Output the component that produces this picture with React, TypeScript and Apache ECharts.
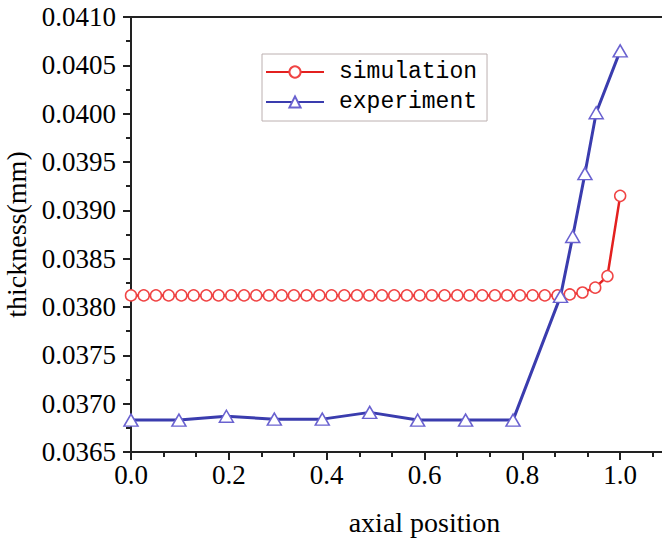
import React, { useEffect, useRef } from "react";
import * as echarts from "echarts";

const simX = [0, 0.026, 0.051, 0.077, 0.103, 0.128, 0.154, 0.179, 0.205, 0.231, 0.256, 0.282, 0.308, 0.333, 0.359, 0.385, 0.41, 0.436, 0.462, 0.487, 0.513, 0.538, 0.564, 0.59, 0.615, 0.641, 0.667, 0.692, 0.718, 0.744, 0.769, 0.795, 0.821, 0.846, 0.872, 0.897, 0.923, 0.949, 0.974, 1.0];
const simY = [0.03812, 0.03812, 0.03812, 0.03812, 0.03812, 0.03812, 0.03812, 0.03812, 0.03812, 0.03812, 0.03812, 0.03812, 0.03812, 0.03812, 0.03812, 0.03812, 0.03812, 0.03812, 0.03812, 0.03812, 0.03812, 0.03812, 0.03812, 0.03812, 0.03812, 0.03812, 0.03812, 0.03812, 0.03812, 0.03812, 0.03812, 0.03812, 0.03812, 0.03812, 0.03812, 0.03813, 0.03815, 0.0382, 0.03832, 0.03915];
const expX = [0, 0.098, 0.195, 0.293, 0.391, 0.488, 0.586, 0.684, 0.781, 0.878, 0.903, 0.928, 0.951, 1.0];
const expY = [0.03683, 0.03683, 0.03687, 0.03684, 0.03684, 0.03691, 0.03683, 0.03683, 0.03683, 0.03811, 0.03873, 0.03938, 0.04001, 0.04065];

const seriesNames = ["simulation", "experiment"];
const xTitle = "axial position";
const yTitle = "thickness(mm)";

export default function App() {
  const ref = useRef<HTMLDivElement>(null);
  useEffect(() => {
    document.body.style.margin = "0";
    const chart = echarts.init(ref.current!, null, { renderer: "svg" });
    const serif = "Liberation Serif";
    chart.setOption({
      animation: false,
      backgroundColor: "#ffffff",
      textStyle: { fontFamily: serif },
      grid: {
        left: 131,
        top: 17,
        bottom: 91,
        width: 587,
        outerBoundsMode: "none",
        containLabel: false,
        show: true,
        borderColor: "#222",
        borderWidth: 2,
        backgroundColor: "transparent",
      },
      legend: {
        orient: "vertical",
        left: 262,
        top: 54,
        padding: [6, 10, 7, 3],
        itemWidth: 58,
        itemHeight: 14,
        itemGap: 6,
        borderColor: "#bcb0b0",
        borderWidth: 1,
        data: seriesNames,
        textStyle: {
          fontFamily: "Liberation Mono",
          fontSize: 23,
          lineHeight: 24,
          color: "#000",
          padding: [0, 0, 0, 10],
        },
      },
      xAxis: {
        type: "value",
        min: 0,
        max: 1.2,
        interval: 0.2,
        name: xTitle,
        nameLocation: "middle",
        nameGap: 56,
        nameTextStyle: { fontFamily: serif, fontSize: 28, color: "#000" },
        axisLine: { show: true, onZero: false, lineStyle: { color: "#222", width: 2 } },
        axisTick: { show: true, inside: false, length: 8, lineStyle: { color: "#222", width: 2 } },
        minorTick: { show: true, splitNumber: 3, length: 5, lineStyle: { color: "#222", width: 2 } },
        splitLine: { show: false },
        axisLabel: {
          fontFamily: serif,
          fontSize: 27,
          color: "#000",
          margin: 9,
          formatter: (v: number) => (v > 1.001 ? "" : v.toFixed(1)),
        },
      },
      yAxis: {
        type: "value",
        min: 0.0365,
        max: 0.041,
        interval: 0.0005,
        name: yTitle,
        nameLocation: "middle",
        nameGap: 92,
        nameTextStyle: { fontFamily: serif, fontSize: 28, color: "#000" },
        axisLine: { show: true, onZero: false, lineStyle: { color: "#222", width: 2 } },
        axisTick: { show: true, inside: false, length: 8, lineStyle: { color: "#222", width: 2 } },
        minorTick: { show: true, splitNumber: 2, length: 5, lineStyle: { color: "#222", width: 2 } },
        splitLine: { show: false },
        axisLabel: {
          fontFamily: serif,
          fontSize: 27,
          color: "#000",
          margin: 15,
          formatter: (v: number) => v.toFixed(4),
        },
      },
      series: [
        {
          name: seriesNames[0],
          type: "line",
          data: simX.map((x, i) => [x, simY[i]]),
          symbol: "circle",
          symbolSize: 11,
          showAllSymbol: true,
          lineStyle: { color: "#e3201f", width: 2.5 },
          itemStyle: { color: "#ffffff", borderColor: "#f04444", borderWidth: 1.5 },
          z: 2,
        },
        {
          name: seriesNames[1],
          type: "line",
          data: expX.map((x, i) => [x, expY[i]]),
          symbol: "triangle",
          symbolSize: [14, 12],
          showAllSymbol: true,
          lineStyle: { color: "#3a3cae", width: 3 },
          itemStyle: { color: "#ffffff", borderColor: "#6a62d0", borderWidth: 1.5 },
          z: 3,
        },
      ],
    });
    return () => chart.dispose();
  }, []);
  return <div ref={ref} style={{ width: 662, height: 543 }} />;
}
